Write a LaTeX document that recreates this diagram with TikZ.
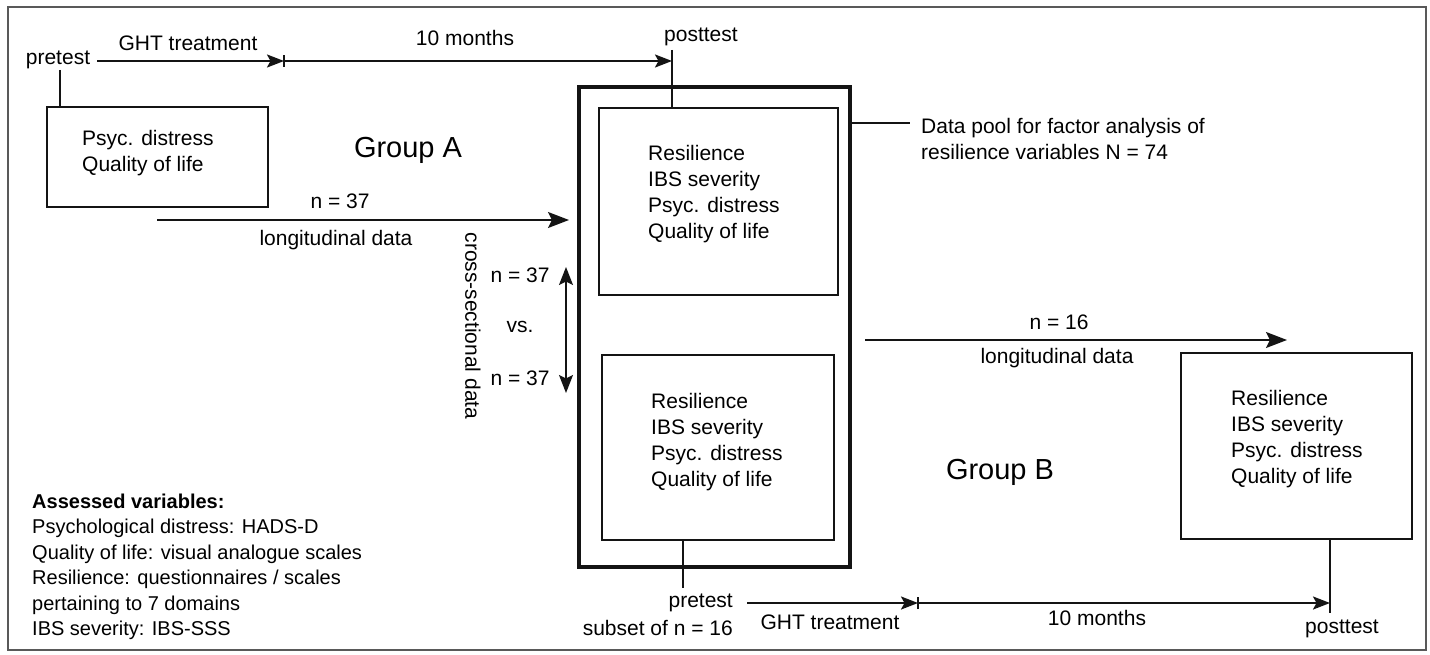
\documentclass[tikz,border=0pt]{standalone}
\usepackage{fontspec}
\setmainfont{Liberation Sans}
\usetikzlibrary{arrows.meta,fit}
\newcommand\myfs{\fontsize{21}{26}\selectfont}
\newcommand\legfs{\fontsize{20}{25.5}\selectfont}
\newcommand\bigfs{\fontsize{29}{34}\selectfont}
\begin{document}
\begin{tikzpicture}[x=1pt,y=-1pt,
  txt/.style={font=\myfs, inner sep=0pt, align=left, text=black},
  lbl/.style={font=\myfs, inner sep=0pt, text=black},
  grp/.style={font=\bigfs, inner sep=0pt, text=black},
  box/.style={draw=black!92, line width=2.6pt, inner sep=0pt},
  bigbox/.style={draw=black!92, line width=4pt, inner sep=0pt},
  tline/.style={draw=black!92, line width=2.2pt},
  thinline/.style={draw=black!92, line width=1.6pt},
  tarr/.style={draw=black!92, line width=2.2pt, -{Stealth[length=17pt,width=13pt,inset=3.5pt]}},
  thinarr/.style={draw=black!92, line width=1.5pt, -{Stealth[length=21pt,width=16pt,inset=4pt]}},
  dblarr/.style={draw=black!92, line width=1.5pt, {Stealth[length=18pt,width=14pt,inset=3.5pt]}-{Stealth[length=18pt,width=14pt,inset=3.5pt]}},
]
\useasboundingbox (0,0) rectangle (1430,655);
\fill[white] (0,0) rectangle (1430,655);
\draw[black!65, line width=1.5pt] (8,7) rectangle (1426,650);

% boxes
\coordinate (lb1) at (47,107); \coordinate (lb2) at (268,207);
\node[box, fit=(lb1)(lb2)] (leftbox) {};
\coordinate (tk1) at (579,87); \coordinate (tk2) at (850,567);
\node[bigbox, fit=(tk1)(tk2)] (thick) {};
\coordinate (ti1) at (599,108); \coordinate (ti2) at (838,295);
\node[box, fit=(ti1)(ti2)] (topin) {};
\coordinate (bi1) at (602,355); \coordinate (bi2) at (834,540);
\node[box, fit=(bi1)(bi2)] (botin) {};
\coordinate (rb1) at (1181,353); \coordinate (rb2) at (1412,539);
\node[box, fit=(rb1)(rb2)] (rightbox) {};

% box texts
\node[txt, anchor=west] (lbtxt) at (82,153) {Psyc. distress\\Quality of life};
\node[txt, anchor=west] (titxt) at (648,194) {Resilience\\IBS severity\\Psyc. distress\\Quality of life};
\node[txt, anchor=west] (bitxt) at (651,442) {Resilience\\IBS severity\\Psyc. distress\\Quality of life};
\node[txt, anchor=west] (rbtxt) at (1231,439) {Resilience\\IBS severity\\Psyc. distress\\Quality of life};

% top timeline (group A)
\node[lbl] (pre1) at (58,60) {pretest};
\coordinate (bar1) at (284,61);
\coordinate (post1) at (672,50);
\draw[tarr] ([xshift=7pt]pre1.east |- bar1) -- (bar1);
\draw[tline] ([yshift=-6pt]bar1) -- ([yshift=6pt]bar1);
\draw[tarr] (bar1) -- (post1 |- bar1);
\draw[tline] (post1) -- (post1 |- topin.north);
\node[lbl, anchor=west] (post1l) at (664,37) {posttest};
\node[lbl] (ght1) at (188,43) {GHT treatment};
\node[lbl] (mon1) at (465,38) {10 months};
\coordinate (p1) at (60,70);
\draw[tline] (p1) -- (p1 |- leftbox.north);

\node[grp] (grpA) at (408,150) {Group A};

% n = 37 longitudinal
\coordinate (a37s) at (157,220);
\draw[thinarr, shorten >=8pt] (a37s) -- (a37s -| thick.west);
\node[lbl] (n37a) at (340,201) {n = 37};
\node[lbl] (long1) at (336,240) {longitudinal data};

% data pool
\coordinate (dp) at (910,123);
\draw[thinline] (dp -| thick.east) -- (dp);
\node[txt, anchor=west] (dptxt) at (921,139) {Data pool for factor analysis of\\resilience variables N = 74};

% cross-sectional
\coordinate (d1) at (566,267); \coordinate (d2) at (566,393);
\draw[dblarr] (d1) -- (d2);
\node[lbl] (n37b) at (520,275) {n = 37};
\node[lbl] (vs) at (520,327) {vs.};
\node[lbl] (n37c) at (520,378) {n = 37};
\node[lbl, rotate=-90] (cross) at (473,326) {cross-sectional data};

% n = 16 longitudinal
\coordinate (a16s) at (865,340); \coordinate (a16e) at (1287,340);
\draw[thinarr] (a16s) -- (a16e);
\node[lbl] (n16) at (1059,322) {n = 16};
\node[lbl] (long2) at (1057,358) {longitudinal data};

\node[grp] (grpB) at (1000,472) {Group B};

% bottom timeline (group B)
\coordinate (p2) at (683,588);
\draw[tline] (p2 |- botin.south) -- (p2);
\node[lbl, anchor=east] (pre2) at (733,603) {pretest};
\node[lbl, anchor=east] (sub) at (733,628) {subset of n = 16};
\coordinate (bar2) at (918,603);
\coordinate (post2) at (1330,613);
\draw[tarr] ([xshift=14pt]pre2.east |- bar2) -- (bar2);
\draw[tline] ([yshift=-6pt]bar2) -- ([yshift=6pt]bar2);
\draw[tarr] (bar2) -- (post2 |- bar2);
\draw[tline] (post2 |- rightbox.south) -- (post2);
\node[lbl] (post2l) at (1342,629) {posttest};
\node[lbl] (ght2) at (830,622) {GHT treatment};
\node[lbl] (mon2) at (1097,618) {10 months};

% legend
\node[font=\legfs, inner sep=0pt, align=left, anchor=west, text=black] (legend) at (32,567)
  {\textbf{Assessed variables:}\\Psychological distress: HADS-D\\Quality of life: visual analogue scales\\Resilience: questionnaires / scales\\pertaining to 7 domains\\IBS severity: IBS-SSS};
\end{tikzpicture}
\end{document}
